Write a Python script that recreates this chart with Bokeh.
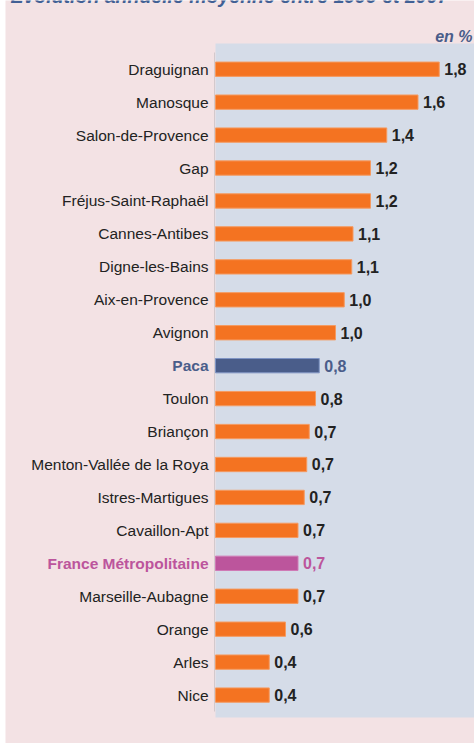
from bokeh.plotting import figure
from bokeh.models import ColumnDataSource, Range1d, BoxAnnotation, Spacer
from bokeh.layouts import row
from bokeh.core.properties import value
from bokeh.embed import file_html
from bokeh.resources import INLINE

# ---- data ----
cities = ["Draguignan", "Manosque", "Salon-de-Provence", "Gap", "Fréjus-Saint-Raphaël",
          "Cannes-Antibes", "Digne-les-Bains", "Aix-en-Provence", "Avignon", "Paca",
          "Toulon", "Briançon", "Menton-Vallée de la Roya", "Istres-Martigues",
          "Cavaillon-Apt", "France Métropolitaine", "Marseille-Aubagne", "Orange",
          "Arles", "Nice"]
growth = [1.79, 1.62, 1.37, 1.24, 1.24, 1.10, 1.09, 1.03, 0.96, 0.83,
          0.80, 0.75, 0.73, 0.71, 0.66, 0.66, 0.66, 0.56, 0.43, 0.43]
growth_labels = ["1,8", "1,6", "1,4", "1,2", "1,2", "1,1", "1,1", "1,0", "1,0", "0,8",
                 "0,8", "0,7", "0,7", "0,7", "0,7", "0,7", "0,7", "0,6", "0,4", "0,4"]
title_text = "Évolution annuelle moyenne entre 1999 et 2007"
unit_text = "en %"

ORANGE = "#f47321"
ORANGE_EDGE = "#f59a60"
PACA = "#4a5d8a"
PACA_EDGE = "#7f94c4"
FRANCE = "#bc559c"
FRANCE_EDGE = "#cf7ab5"
PINK = "#f3e2e4"
BLUE = "#d5dce8"
DARK = "#222222"
FONT = "Liberation Sans"

W, H = 469, 743          # figure size (placed 5 px from the page's left edge)
X0 = 210                 # pixel of value 0 inside the figure
XS = 125.0               # pixels per unit of growth
YS = 32.94               # pixels per category
Y_TOP = 21.086           # data y at the top edge

def dx(px):
    return (px - X0) / XS

def dy(py):
    return Y_TOP - py / YS

n = len(cities)
ys = [n - 1 - i for i in range(n)]
special = {"Paca": (PACA, PACA_EDGE), "France Métropolitaine": (FRANCE, FRANCE_EDGE)}
fill = [special.get(c, (ORANGE, ORANGE_EDGE))[0] for c in cities]
edge = [special.get(c, (ORANGE, ORANGE_EDGE))[1] for c in cities]
tcol = [special[c][0] if c in special else DARK for c in cities]
tstyle = ["bold" if c in special else "normal" for c in cities]

src = ColumnDataSource(dict(y=ys, v=growth, lab=growth_labels, city=cities,
                            fill=fill, edge=edge, tcol=tcol, tstyle=tstyle))

p = figure(width=W, height=H, output_backend="svg", toolbar_location=None,
           x_range=Range1d(dx(0), dx(W)), y_range=Range1d(dy(H), dy(0)),
           min_border=0)
p.background_fill_color = PINK
p.border_fill_color = PINK
p.outline_line_color = None
p.grid.visible = False
p.axis.visible = False

# plot panel
p.add_layout(BoxAnnotation(left=0, top=dy(43), bottom=dy(717), fill_color=BLUE,
                           fill_alpha=1, line_color=None, level="underlay"))
p.segment(x0=[dx(X0 - 1)], x1=[dx(X0 - 1)], y0=[dy(52)], y1=[dy(711)],
          line_color="#d3c9cc", line_width=1)

p.hbar(y="y", left=0, right="v", height=0.435, fill_color="fill", line_color="edge",
       line_width=1, source=src)
p.text(x="v", y="y", text="lab", text_color="tcol", x_offset=5,
       text_font=value(FONT), text_font_style="bold", text_font_size="16px",
       text_baseline="middle", text_align="left", source=src)
p.text(x=0, y="y", text="city", text_color="tcol", x_offset=-7,
       text_font=value(FONT), text_font_style="tstyle", text_font_size="15.5px",
       text_baseline="middle", text_align="right", source=src)

p.text(x=[dx(5)], y=[dy(-5)], text=[title_text], text_color="#416095",
       text_font=value(FONT), text_font_style="bold italic", text_font_size="19.5px",
       text_baseline="alphabetic", text_align="left")
p.text(x=[dx(W - 2)], y=[dy(36)], text=[unit_text], text_color="#4a5d8a",
       text_font=value(FONT), text_font_style="bold italic", text_font_size="16px",
       text_baseline="alphabetic", text_align="right")

layout = row(Spacer(width=5, height=H), p)
open("out.html", "w").write(file_html(layout, INLINE))
